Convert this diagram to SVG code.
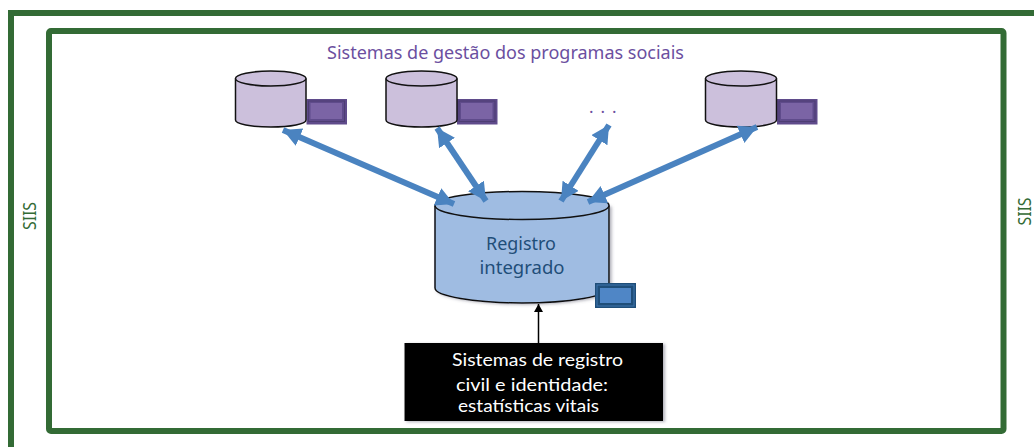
<svg xmlns="http://www.w3.org/2000/svg" width="1034" height="447" viewBox="0 0 1034 447">
<style>
text{font-family:"Noto Sans","Open Sans","Liberation Sans",sans-serif}
.frame{fill:none;stroke:#336b35;stroke-width:6}
.siis{fill:#336b35;font-size:18px;text-anchor:middle}
.cyl{fill:#ccc0dc;stroke:#111;stroke-width:1.5}
.blue{fill:#9fbce2;stroke:#111;stroke-width:1.5}
.scr{fill:#5f4b8b}
.scrm{fill:none;stroke:#4d3d73;stroke-width:1}
.scri{fill:#7b64a5}
.arrow{fill:none;stroke:#4a83c0;stroke-width:6;marker-start:url(#bh);marker-end:url(#bh)}
.t{font-size:18px}
.w{fill:#fff;font-size:17px;font-family:Lato,"Noto Sans",sans-serif}
</style>
<defs>
<marker id="bh" markerUnits="userSpaceOnUse" markerWidth="20" markerHeight="20" refX="18" refY="9.500" orient="auto-start-reverse"><path d="M0 0L18 9.500L0 19Z" fill="#4a83c0"/></marker>
<marker id="kh" markerUnits="userSpaceOnUse" markerWidth="10" markerHeight="10" refX="8" refY="4.500" orient="auto"><path d="M0 0L8 4.500L0 9Z" fill="#000"/></marker>
<filter id="sh" x="-5%" y="-5%" width="112%" height="112%"><feDropShadow dx="2" dy="1" stdDeviation="1.500" flood-color="#667" flood-opacity=".5"/></filter>
</defs>
<rect width="1034" height="447" fill="#fff"/>
<g id="siis-frame">
<path class="frame" d="M11 447V13H1034"/>
<rect class="frame" x="49" y="31" width="954.500" height="400" rx="2"/>
<text class="siis" transform="translate(36 216) rotate(-90)" textLength="28" lengthAdjust="spacingAndGlyphs">SIIS</text>
<text class="siis" transform="translate(1031 211.500) rotate(-90)" textLength="28" lengthAdjust="spacingAndGlyphs">SIIS</text>
</g>
<text id="title" class="t" x="327" y="59" fill="#6b4fa0" textLength="357" lengthAdjust="spacingAndGlyphs">Sistemas de gestão dos programas sociais</text>
<g id="db1">
<rect class="scr" x="306.500" y="99" width="40.500" height="25.500"/><rect class="scrm" x="308.500" y="101" width="36" height="20.500"/><rect class="scri" x="310.500" y="103" width="31.500" height="16"/>
<path class="cyl" d="M235.500 78.500V120C235.500 124 251 127 271 127S306 124 306 120V78.500"/><ellipse class="cyl" cx="270.750" cy="78.500" rx="35.250" ry="7.500"/>
</g>
<g id="db2">
<rect class="scr" x="457" y="99" width="40.500" height="25.500"/><rect class="scrm" x="459" y="101" width="36" height="20.500"/><rect class="scri" x="461" y="103" width="31.500" height="16"/>
<path class="cyl" d="M386 78.500V120C386 124 401.500 127 421.500 127S457 124 457 120V78.500"/><ellipse class="cyl" cx="421.500" cy="78.500" rx="35.500" ry="7.500"/>
</g>
<text id="ellipsis" x="589" y="113" fill="#6b4fa0" font-size="17" letter-spacing="7">...</text>
<g id="db3">
<rect class="scr" x="777" y="99" width="40.500" height="25.500"/><rect class="scrm" x="779" y="101" width="36" height="20.500"/><rect class="scri" x="781" y="103" width="31.500" height="16"/>
<path class="cyl" d="M705.500 78.500V120C705.500 124 721 127 741 127S776.500 124 776.500 120V78.500"/><ellipse class="cyl" cx="741" cy="78.500" rx="35.500" ry="7.500"/>
</g>
<g id="registro">
<path class="blue" filter="url(#sh)" d="M435 205.500V288C435 296 474 303 522 303S609 296 609 288V205.500"/>
<ellipse class="blue" cx="522" cy="205.500" rx="87" ry="14"/>
<text class="t" x="521" y="250" text-anchor="middle" fill="#1f4e79" textLength="70" lengthAdjust="spacingAndGlyphs">Registro</text>
<text class="t" x="522" y="274" text-anchor="middle" fill="#1f4e79" textLength="85" lengthAdjust="spacingAndGlyphs">integrado</text>
<rect x="595" y="283" width="41" height="25" fill="#1f4e79"/><rect x="597" y="285" width="37" height="21" fill="none" stroke="#3f74ad"/><rect x="600" y="288" width="31" height="15" fill="#4f86c6"/>
</g>
<g id="fonte">
<rect x="404.500" y="343" width="258.500" height="78" fill="#000" filter="url(#sh)"/>
<text class="w" x="452" y="366" textLength="171" lengthAdjust="spacingAndGlyphs">Sistemas de registro</text>
<text class="w" x="456" y="391" textLength="152" lengthAdjust="spacingAndGlyphs">civil e identidade:</text>
<text class="w" x="458" y="412" textLength="141" lengthAdjust="spacingAndGlyphs">estatísticas vitais</text>
</g>
<g id="connectors">
<path class="arrow" d="M283 130L454 204"/>
<path class="arrow" d="M437 128L486 201"/>
<path class="arrow" d="M609 125L561 201"/>
<path class="arrow" d="M757 127L588 202"/>
<path d="M538.500 343V304" fill="none" stroke="#000" stroke-width="1.500" marker-end="url(#kh)"/>
</g>
</svg>
